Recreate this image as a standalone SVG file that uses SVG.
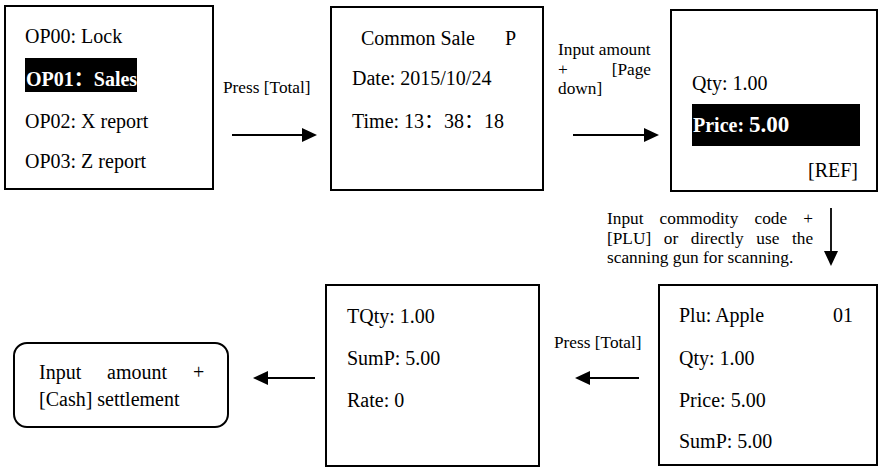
<svg xmlns="http://www.w3.org/2000/svg" width="879" height="467" viewBox="0 0 879 467" font-family="'Liberation Serif', Tinos, 'Times New Roman', 'Noto Serif', 'DejaVu Serif', serif">
<style>
text{font-family:'Liberation Serif', Tinos, 'Times New Roman', 'Noto Serif', 'DejaVu Serif', serif}
.box{fill:#fff;stroke:#000;stroke-width:2}
.t{font-size:20px;fill:#000}
.s{font-size:17.3px;fill:#000}
.w{font-size:20px;font-weight:bold;fill:#fff}
tspan.cjk{font-family:'Noto Sans CJK SC', sans-serif}
.c{stroke:#000;stroke-width:1.8;fill:none}
</style>
<defs>
<marker id="ah" markerUnits="userSpaceOnUse" markerWidth="16" markerHeight="14" refX="7" refY="7" orient="auto">
<path d="M0,0 L15,7 L0,14 Z" fill="#000"/>
</marker>
</defs>
<rect width="879" height="467" fill="#fff"/>
<g id="node-menu">
<rect class="box" x="5" y="6" width="208" height="183"/>
<text class="t" x="25" y="43">OP00: Lock</text>
<rect x="25" y="58" width="112" height="34" fill="#000"/>
<text class="w" x="26" y="86">OP01<tspan class="cjk">：</tspan>Sales</text>
<text class="t" x="25" y="128">OP02: X report</text>
<text class="t" x="25" y="168">OP03: Z report</text>
</g>
<g id="node-common-sale">
<rect class="box" x="331" y="7" width="212" height="183"/>
<text class="t" x="361" y="45">Common Sale</text>
<text class="t" x="505" y="45">P</text>
<text class="t" x="352" y="85">Date: 2015/10/24</text>
<text class="t" x="352" y="128">Time: 13<tspan class="cjk">：</tspan>38<tspan class="cjk">：</tspan>18</text>
</g>
<g id="node-price">
<rect class="box" x="671" y="10" width="206" height="181"/>
<text class="t" x="692" y="90">Qty: 1.00</text>
<rect x="692" y="104" width="168" height="42" fill="#000"/>
<text class="w" x="693" y="132">Price: <tspan font-size="23">5.00</tspan></text>
<text class="t" x="858" y="177" text-anchor="end">[REF]</text>
</g>
<g id="node-plu">
<rect class="box" x="659" y="285" width="218" height="180"/>
<text class="t" x="679" y="322">Plu: Apple</text>
<text class="t" x="833" y="322">01</text>
<text class="t" x="679" y="365">Qty: 1.00</text>
<text class="t" x="679" y="407">Price: 5.00</text>
<text class="t" x="679" y="448">SumP: 5.00</text>
</g>
<g id="node-total">
<rect class="box" x="326" y="285" width="213" height="181"/>
<text class="t" x="347" y="323">TQty: 1.00</text>
<text class="t" x="347" y="365">SumP: 5.00</text>
<text class="t" x="347" y="407">Rate: 0</text>
</g>
<g id="node-cash">
<rect class="box" x="14" y="343" width="214" height="84" rx="13"/>
<text class="t" y="379"><tspan x="39">Input</tspan><tspan x="107">amount</tspan><tspan x="193">+</tspan></text>
<text class="t" x="39" y="406">[Cash] settlement</text>
</g>
<g id="connectors">
<line class="c" x1="232" y1="135" x2="309" y2="135" marker-end="url(#ah)"/>
<line class="c" x1="573" y1="135" x2="651" y2="135" marker-end="url(#ah)"/>
<line class="c" x1="831" y1="208" x2="831" y2="258" marker-end="url(#ah)"/>
<line class="c" x1="639" y1="378" x2="583" y2="378" marker-end="url(#ah)"/>
<line class="c" x1="315" y1="378" x2="261" y2="378" marker-end="url(#ah)"/>
<text class="s" x="223" y="93">Press [Total]</text>
<text class="s" x="558" y="55">Input amount</text>
<text class="s" x="558" y="74.5">+</text>
<text class="s" x="651" y="74.5" text-anchor="end">[Page</text>
<text class="s" x="558" y="94">down]</text>
<text class="s" y="224"><tspan x="607">Input</tspan><tspan x="659.6">commodity</tspan><tspan x="754.5">code</tspan><tspan x="803.3">+</tspan></text>
<text class="s" y="243.5"><tspan x="607">[PLU]</tspan><tspan x="663.8">or</tspan><tspan x="690.8">directly</tspan><tspan x="756.3">use</tspan><tspan x="792">the</tspan></text>
<text class="s" x="607" y="263">scanning gun for scanning.</text>
<text class="s" x="554" y="348">Press [Total]</text>
</g>
</svg>
